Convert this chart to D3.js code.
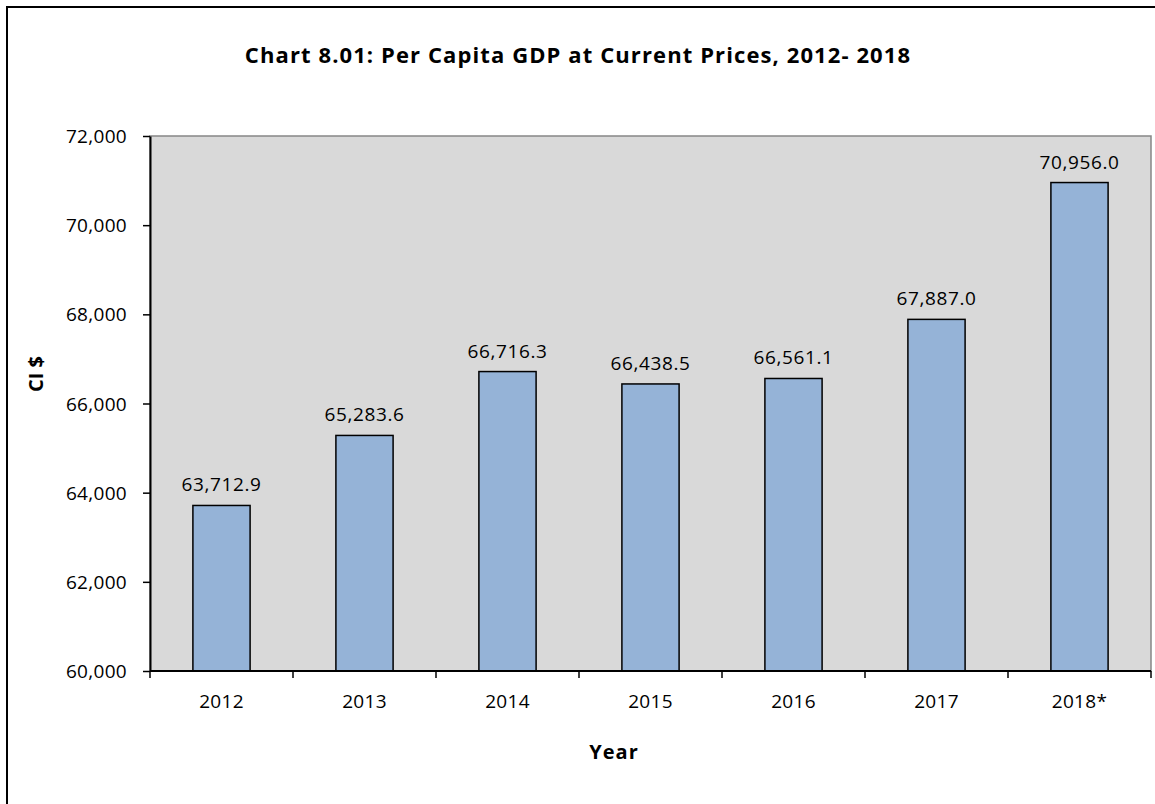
<!DOCTYPE html>
<html>
<head>
<meta charset="utf-8">
<script src="https://cdn.jsdelivr.net/npm/d3@7.9.0/dist/d3.min.js"></script>
<style>
  body { margin: 0; background: #fff; }
  svg text { font-family: "Open Sans", "Noto Sans", sans-serif; fill: #000; }
</style>
</head>
<body>
<div id="chart"></div>
<script>
const years = ['2012', '2013', '2014', '2015', '2016', '2017', '2018*'];
const gdpPerCapita = [63712.9, 65283.6, 66716.3, 66438.5, 66561.1, 67887.0, 70956.0];
const yTicks = [60000, 62000, 64000, 66000, 68000, 70000, 72000];

const width = 1155;
const height = 804;
const plot = { left: 150, right: 1151, top: 136, bottom: 671 };

const svg = d3.select('#chart')
  .append('svg')
  .attr('width', width)
  .attr('height', height);

// outer chart frame (runs off the right and bottom edge)
svg.append('rect')
  .attr('x', 7).attr('y', 7)
  .attr('width', 1170).attr('height', 820)
  .attr('fill', 'none')
  .attr('stroke', '#000')
  .attr('stroke-width', 2);

const data = years.map((y, i) => ({ year: y, value: gdpPerCapita[i] }));

const xScale = d3.scaleBand()
  .domain(years)
  .range([plot.left, plot.right])
  .paddingInner(0.6)
  .paddingOuter(0.3);

const yScale = d3.scaleLinear()
  .domain([60000, 72000])
  .range([plot.bottom, plot.top]);

// plot background
svg.append('rect')
  .attr('x', plot.left).attr('y', plot.top)
  .attr('width', plot.right - plot.left)
  .attr('height', plot.bottom - plot.top)
  .attr('fill', '#d9d9d9')
  .attr('stroke', '#868686')
  .attr('stroke-width', 1.5);

// bars
svg.append('g')
  .selectAll('rect')
  .data(data)
  .join('rect')
  .attr('x', d => xScale(d.year))
  .attr('y', d => yScale(d.value))
  .attr('width', xScale.bandwidth())
  .attr('height', d => yScale(60000) - yScale(d.value))
  .attr('fill', '#95b3d7')
  .attr('stroke', '#000')
  .attr('stroke-width', 1.5);

// value labels
svg.append('g')
  .selectAll('text')
  .data(data)
  .join('text')
  .attr('x', d => xScale(d.year) + xScale.bandwidth() / 2)
  .attr('y', d => yScale(d.value) - 14)
  .attr('text-anchor', 'middle')
  .style('font-size', '19px')
  .style('letter-spacing', '0.6px')
  .text(d => d3.format(',.1f')(d.value));

// y axis
const yAxis = svg.append('g')
  .attr('transform', `translate(${plot.left},0)`)
  .call(d3.axisLeft(yScale).tickValues(yTicks).tickFormat(d3.format(',')).tickSize(7).tickSizeOuter(0));
yAxis.select('.domain').attr('stroke', '#000').attr('stroke-width', 2);
yAxis.selectAll('.tick line').attr('stroke', '#000').attr('stroke-width', 1.5);
yAxis.selectAll('.tick text')
  .attr('x', -23)
  .attr('dy', '0.35em')
  .style('font-size', '19px')
  .style('letter-spacing', '0.3px')
  .style('font-family', '"Open Sans", sans-serif');

// x axis: ticks sit on the category boundaries
const boundaries = d3.range(years.length + 1).map(i => plot.left + i * (plot.right - plot.left) / years.length);
const xAxis = svg.append('g');
xAxis.append('line')
  .attr('x1', plot.left).attr('x2', plot.right)
  .attr('y1', plot.bottom).attr('y2', plot.bottom)
  .attr('stroke', '#000').attr('stroke-width', 2);
xAxis.selectAll('line.tick')
  .data(boundaries)
  .join('line')
  .attr('class', 'tick')
  .attr('x1', d => d).attr('x2', d => d)
  .attr('y1', plot.bottom).attr('y2', plot.bottom + 7)
  .attr('stroke', '#000').attr('stroke-width', 1.5);
xAxis.selectAll('text')
  .data(years)
  .join('text')
  .attr('x', d => xScale(d) + xScale.bandwidth() / 2)
  .attr('y', 708)
  .attr('text-anchor', 'middle')
  .style('font-size', '19px')
  .style('letter-spacing', '0.3px')
  .text(d => d);

// titles
svg.append('text')
  .attr('x', 578)
  .attr('y', 63)
  .attr('text-anchor', 'middle')
  .style('font-size', '22px')
  .style('letter-spacing', '1.1px')
  .style('font-weight', 'bold')
  .text('Chart 8.01: Per Capita GDP at Current Prices, 2012- 2018');

svg.append('text')
  .attr('x', 614)
  .attr('y', 759)
  .attr('text-anchor', 'middle')
  .style('font-size', '20px')
  .style('letter-spacing', '1px')
  .style('font-weight', 'bold')
  .text('Year');

svg.append('text')
  .attr('transform', 'translate(43,374) rotate(-90)')
  .attr('text-anchor', 'middle')
  .style('font-size', '20px')
  .style('font-weight', 'bold')
  .text('CI $');
</script>
</body>
</html>
